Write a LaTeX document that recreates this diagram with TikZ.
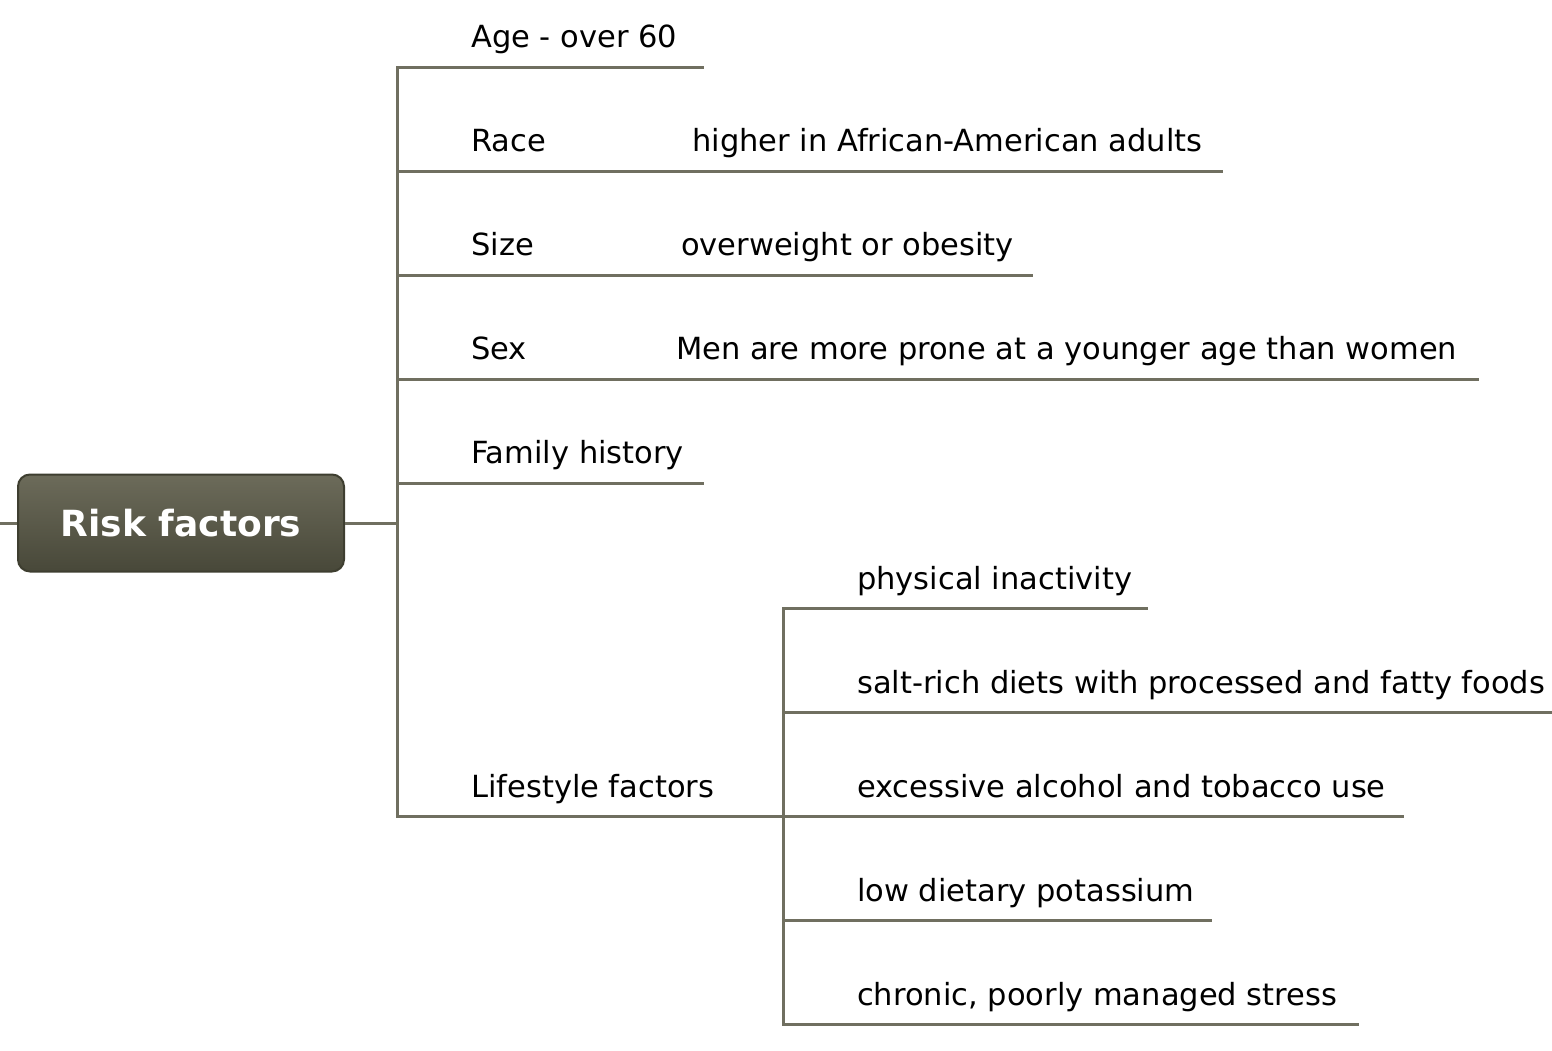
\documentclass[tikz,border=0pt]{standalone}
\usepackage{fontspec}
\setmainfont{DejaVu Sans}
\definecolor{linec}{RGB}{112,111,96}
\definecolor{boxtop}{RGB}{108,107,90}
\definecolor{boxbot}{RGB}{72,72,57}
\definecolor{boxedge}{RGB}{62,62,48}
\begin{document}
\begin{tikzpicture}[x=1pt,y=-1pt,
  branch/.style={draw=linec,line width=3pt},
  lbl/.style={anchor=base west,inner sep=0pt,text=black,
    font=\fontsize{30.5}{36}\selectfont},
  root/.style={rounded corners=12pt,draw=boxedge,line width=2pt,
    top color=boxtop,bottom color=boxbot,text=white,
    minimum width=326pt,minimum height=97pt,inner sep=0pt,
    font=\fontsize{36}{42}\selectfont\bfseries}]
\useasboundingbox (0,0) rectangle (1552,1050);

% central topic
\node[root] (root) at (181,523) {Risk factors};
\coordinate (stub) at (0,523);
\coordinate (hub) at (397,523);
\draw[branch] (stub) -- (root.west);
\draw[branch] (root.east) -- (hub);

% main trunk and its junctions
\coordinate (j1) at (397,67);
\coordinate (j2) at (397,171);
\coordinate (j3) at (397,275);
\coordinate (j4) at (397,379);
\coordinate (j5) at (397,483);
\coordinate (j6) at (397,816);
\draw[branch,line cap=rect] (j1) -- (j6);

% first-level topics
\node[lbl] (age) at (471,47) {Age - over 60};
\node[lbl] (race) at (471,151) {Race};
\node[lbl] (size) at (471,255) {Size};
\node[lbl] (sex) at (471,359) {Sex};
\node[lbl] (family) at (471,463) {Family history};
\node[lbl] (life) at (471,797) {Lifestyle factors};

% details on the same line
\node[lbl] (raced) at (692,151) {higher in African-American adults};
\node[lbl] (sized) at (681,255) {overweight or obesity};
\node[lbl] (sexd) at (676,359) {Men are more prone at a younger age than women};

% underlines
\coordinate (e1) at (704,67);
\coordinate (e2) at (1223,171);
\coordinate (e3) at (1033,275);
\coordinate (e4) at (1479,379);
\coordinate (e5) at (704,483);
\coordinate (k3) at (783,816);
\draw[branch] (j1) -- (e1);
\draw[branch] (j2) -- (e2);
\draw[branch] (j3) -- (e3);
\draw[branch] (j4) -- (e4);
\draw[branch] (j5) -- (e5);
\draw[branch] (j6) -- (k3);

% lifestyle sub-branches
\coordinate (k1) at (783,608);
\coordinate (k2) at (783,712);
\coordinate (k4) at (783,920);
\coordinate (k5) at (783,1024);
\draw[branch,line cap=rect] (k1) -- (k5);

\node[lbl] (inact) at (857,589) {physical inactivity};
\node[lbl] (salt) at (857,693) {salt-rich diets with processed and fatty foods};
\node[lbl] (alco) at (857,797) {excessive alcohol and tobacco use};
\node[lbl] (potas) at (857,901) {low dietary potassium};
\node[lbl] (stress) at (857,1005) {chronic, poorly managed stress};

\coordinate (f1) at (1148,608);
\coordinate (f2) at (1552,712);
\coordinate (f3) at (1404,816);
\coordinate (f4) at (1212,920);
\coordinate (f5) at (1359,1024);
\draw[branch] (k1) -- (f1);
\draw[branch] (k2) -- (f2);
\draw[branch] (k3) -- (f3);
\draw[branch] (k4) -- (f4);
\draw[branch] (k5) -- (f5);
\end{tikzpicture}
\end{document}
